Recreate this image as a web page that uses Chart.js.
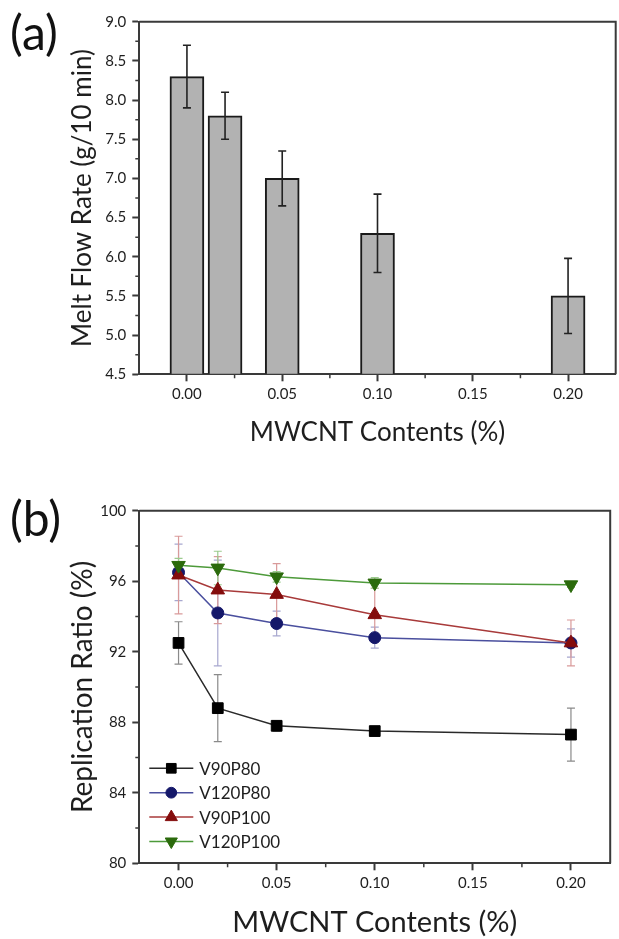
<!DOCTYPE html>
<html>
<head>
<meta charset="utf-8">
<script src="https://cdn.jsdelivr.net/npm/chart.js@4"></script>
<style>
  html, body { margin: 0; padding: 0; background: #fff; }
  body { width: 619px; height: 939px; position: relative; overflow: hidden; font-family: Lato, sans-serif; }
  .panel { position: absolute; left: 0; width: 619px; }
  #wrapA { top: 0; height: 470px; }
  #wrapB { top: 470px; height: 469px; }
  .tag { position: absolute; left: 10px; font-size: 48px; line-height: 1; color: #111; }
</style>
</head>
<body>
<div class="panel" id="wrapA"><canvas id="chartA"></canvas></div>
<div class="panel" id="wrapB"><canvas id="chartB"></canvas></div>
<div class="tag" style="top:8px">(a)</div>
<div class="tag" style="top:494px">(b)</div>

<script>
// MWCNT 含有量 (%)
const contents = [0, 0.02, 0.05, 0.10, 0.20];

// (a) Melt Flow Rate
const mfrValues = [8.3, 7.8, 7.0, 6.3, 5.5];
const mfrErrors = [0.4, 0.3, 0.35, 0.5, 0.48];

// (b) Replication Ratio
const seriesNames = ["V90P80", "V120P80", "V90P100", "V120P100"];
const v90p80 = [92.5, 88.8, 87.8, 87.5, 87.3];
const v90p80Err = [1.2, 1.9, 0.3, 0.2, 1.5];
const v120p80 = [96.5, 94.2, 93.6, 92.8, 92.5];
const v120p80Err = [1.6, 3.0, 0.7, 0.6, 0.8];
const v90p100 = [96.35, 95.5, 95.25, 94.1, 92.5];
const v90p100Err = [2.2, 1.9, 1.75, 1.5, 1.3];
const v120p100 = [96.9, 96.75, 96.25, 95.9, 95.8];
const v120p100Err = [0.4, 0.95, 0.3, 0.3, 0.15];

// 目盛り
const xTicks = [0, 0.05, 0.10, 0.15, 0.20];
const xMinorTicks = [0.025, 0.075, 0.125, 0.175];
const mfrTicks = [4.5, 5.0, 5.5, 6.0, 6.5, 7.0, 7.5, 8.0, 8.5, 9.0];
const mfrMinorTicks = [4.75, 5.25, 5.75, 6.25, 6.75, 7.25, 7.75, 8.25, 8.75];
const ratioTicks = [80, 84, 88, 92, 96, 100];
const ratioMinorTicks = [82, 86, 90, 94, 98];

const axisColor = "#3a3a3a";
const textColor = "#1e1e1e";
const fontFamily = "Lato, 'Open Sans', sans-serif";

// 枠線(上・右)と副目盛り
function frameBox(minorX, minorY) {
  return {
    id: "frameBox",
    afterDraw(chart) {
      const a = chart.chartArea;
      const ctx = chart.ctx;
      ctx.save();
      ctx.strokeStyle = axisColor;
      ctx.lineWidth = 2;
      ctx.beginPath();
      ctx.moveTo(a.left, a.top);
      ctx.lineTo(a.right, a.top);
      ctx.lineTo(a.right, a.bottom);
      ctx.stroke();
      ctx.lineWidth = 1.5;
      ctx.beginPath();
      minorX.forEach((v) => {
        const px = chart.scales.x.getPixelForValue(v);
        ctx.moveTo(px, a.bottom);
        ctx.lineTo(px, a.bottom + 4);
      });
      minorY.forEach((v) => {
        const py = chart.scales.y.getPixelForValue(v);
        ctx.moveTo(a.left, py);
        ctx.lineTo(a.left - 4, py);
      });
      ctx.stroke();
      ctx.restore();
    },
  };
}

// エラーバー
function errorBars(behind) {
  const draw = (chart) => {
    const ctx = chart.ctx;
    const ys = chart.scales.y;
    ctx.save();
    chart.data.datasets.forEach((ds, i) => {
      const meta = chart.getDatasetMeta(i);
      ds.errors.forEach((e, j) => {
        const x = meta.data[j].x;
        const v = ds.data[j].y;
        const yTop = ys.getPixelForValue(v + e);
        const yBot = ys.getPixelForValue(v - e);
        ctx.strokeStyle = ds.errorColor;
        ctx.lineWidth = ds.errorWidth;
        ctx.beginPath();
        ctx.moveTo(x, yTop);
        ctx.lineTo(x, yBot);
        ctx.moveTo(x - ds.capHalf, yTop);
        ctx.lineTo(x + ds.capHalf, yTop);
        ctx.moveTo(x - ds.capHalf, yBot);
        ctx.lineTo(x + ds.capHalf, yBot);
        ctx.stroke();
      });
    });
    ctx.restore();
  };
  return behind
    ? { id: "errorBars", beforeDatasetsDraw: draw }
    : { id: "errorBars", afterDatasetsDraw: draw };
}

// 凡例(グラフ内左下)
const legendBox = {
  id: "legendBox",
  afterDraw(chart) {
    const ctx = chart.ctx;
    const a = chart.chartArea;
    ctx.save();
    chart.data.datasets.forEach((ds, i) => {
      const y = a.top + 257.6 + i * 24.4;
      const x0 = a.left + 10;
      ctx.strokeStyle = ds.borderColor;
      ctx.lineWidth = 1.5;
      ctx.beginPath();
      ctx.moveTo(x0, y);
      ctx.lineTo(x0 + 44, y);
      ctx.stroke();
      ctx.fillStyle = ds.pointBackgroundColor;
      ctx.strokeStyle = ds.pointBackgroundColor;
      ctx.lineWidth = 1;
      Chart.helpers.drawPoint(ctx, {
        pointStyle: ds.pointStyle,
        rotation: ds.pointRotation || 0,
        radius: ds.pointRadius * 0.9,
        borderWidth: 1,
      }, x0 + 22, y);
      ctx.fillStyle = textColor;
      ctx.font = "17px " + fontFamily;
      ctx.textBaseline = "middle";
      ctx.textAlign = "left";
      ctx.fillText(seriesNames[i], x0 + 50, y + 1);
    });
    ctx.restore();
  },
};

function xScale(min, max, titleSize, height) {
  return {
    type: "linear",
    min: min,
    max: max,
    offset: false,
    afterBuildTicks: (s) => { s.ticks = xTicks.map((v) => ({ value: v })); },
    afterFit: (s) => { s.height = height; },
    grid: { drawOnChartArea: false, offset: false, tickLength: 7, tickWidth: 2, tickColor: axisColor },
    border: { color: axisColor, width: 2 },
    ticks: {
      autoSkip: false, maxRotation: 0, padding: 4, color: textColor,
      font: { family: fontFamily, size: 15 },
      callback: (v) => Number(v).toFixed(2),
    },
    title: {
      display: true, text: "MWCNT Contents (%)", color: textColor, padding: 0,
      font: { family: fontFamily, size: titleSize, lineHeight: 1 },
    },
  };
}

function yScale(min, max, ticks, digits, title, titleSize, width) {
  return {
    min: min,
    max: max,
    afterBuildTicks: (s) => { s.ticks = ticks.map((v) => ({ value: v })); },
    afterFit: (s) => { s.width = width; },
    grid: { drawOnChartArea: false, tickLength: 7, tickWidth: 2, tickColor: axisColor },
    border: { color: axisColor, width: 2 },
    ticks: {
      autoSkip: false, padding: 6, color: textColor,
      font: { family: fontFamily, size: 15 },
      callback: (v) => Number(v).toFixed(digits),
    },
    title: {
      display: true, text: title, color: textColor, padding: 0,
      font: { family: fontFamily, size: titleSize, lineHeight: 1 },
    },
  };
}

// (a) 棒グラフ
const chartAConfig = {
  type: "bar",
  data: {
    datasets: [
      {
        data: contents.map((x, i) => ({ x: x, y: mfrValues[i] })),
        errors: mfrErrors,
        errorColor: "#222",
        errorWidth: 1.6,
        capHalf: 4,
        backgroundColor: "#b2b2b2",
        borderColor: "#1a1a1a",
        borderWidth: 2,
        borderSkipped: "start",
        barThickness: 34,
        base: mfrTicks[0],
      },
    ],
  },
  options: {
    responsive: true,
    maintainAspectRatio: false,
    animation: false,
    events: [],
    layout: { padding: { left: 70, top: 21.7, right: 3.3, bottom: 24 } },
    plugins: { legend: { display: false }, tooltip: { enabled: false } },
    scales: {
      x: xScale(-0.025, 0.225, 26, 71.7),
      y: yScale(mfrTicks[0], mfrTicks[mfrTicks.length - 1], mfrTicks, 1, "Melt Flow Rate (g/10 min)", 26, 69.3),
    },
  },
  plugins: [errorBars(false), frameBox(xMinorTicks, mfrMinorTicks)],
};

function lineSet(values, errors, lineColor, markColor, errColor, style, radius, rotation, order) {
  return {
    data: contents.map((x, i) => ({ x: x, y: values[i] })),
    errors: errors,
    errorColor: errColor,
    errorWidth: 1.2,
    capHalf: 4,
    borderColor: lineColor,
    borderWidth: 1.5,
    backgroundColor: markColor,
    pointBackgroundColor: markColor,
    pointBorderColor: markColor,
    pointBorderWidth: 1,
    pointStyle: style,
    pointRadius: radius,
    pointRotation: rotation,
    tension: 0,
    order: order,
  };
}

// (b) 折れ線グラフ
const chartBConfig = {
  type: "line",
  data: {
    datasets: [
      lineSet(v90p80, v90p80Err, "#2a2a2a", "#000000", "#8a8a8a", "rect", 7.6, 0, 3),
      lineSet(v120p80, v120p80Err, "#4a4f9e", "#15186a", "#a8a8cf", "circle", 6, 0, 2),
      lineSet(v90p100, v90p100Err, "#a83a3a", "#840c0c", "#d99a9a", "triangle", 7.8, 0, 1),
      lineSet(v120p100, v120p100Err, "#4d9a3a", "#2b6a0c", "#9ccb8e", "triangle", 7.8, 180, 0),
    ],
  },
  options: {
    responsive: true,
    maintainAspectRatio: false,
    animation: false,
    events: [],
    layout: { padding: { left: 69, top: 40.7, right: 3.3, bottom: 1.5 } },
    plugins: { legend: { display: false }, tooltip: { enabled: false } },
    scales: {
      x: xScale(-0.02, 0.22, 29, 74.2),
      y: yScale(ratioTicks[0], ratioTicks[ratioTicks.length - 1], ratioTicks, 0, "Replication Ratio (%)", 28, 70.3),
    },
  },
  plugins: [errorBars(true), frameBox(xMinorTicks, ratioMinorTicks), legendBox],
};

const charts = {};
charts.chartA = new Chart(document.getElementById("chartA"), chartAConfig);
charts.chartB = new Chart(document.getElementById("chartB"), chartBConfig);
</script>
</body>
</html>
